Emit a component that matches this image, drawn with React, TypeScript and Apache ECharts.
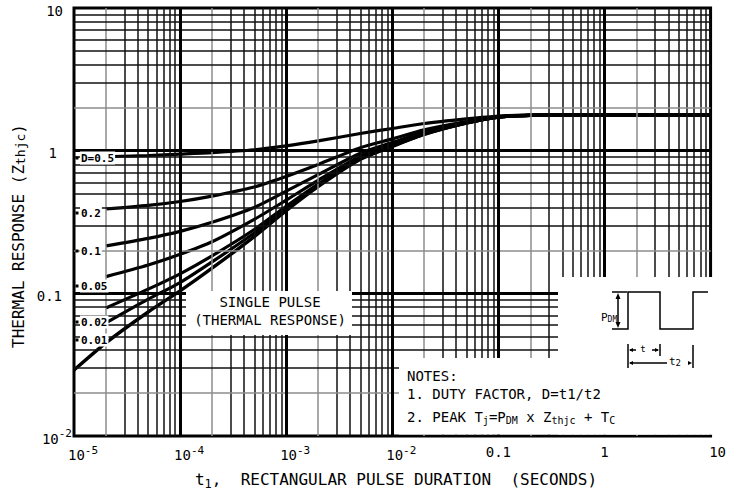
import React, { useEffect, useRef } from 'react';
import * as echarts from 'echarts';

const FONT = '"DejaVu Sans Mono", monospace';

// ---- data (seconds, Zthjc) ----
const tSingle = [1e-5, 2e-5, 5e-5, 1e-4, 2e-4, 5e-4, 1e-3, 2e-3, 5e-3, 1e-2, 2e-2, 5e-2, 1e-1, 2e-1, 1, 10];
const zSingle = [0.029, 0.045, 0.074, 0.104, 0.15, 0.25, 0.38, 0.56, 0.87, 1.07, 1.3, 1.56, 1.72, 1.77, 1.78, 1.78];

const tDuty = [2e-5, 5e-5, 1e-4, 2e-4, 5e-4, 1e-3, 2e-3, 5e-3, 1e-2, 2e-2, 5e-2, 1e-1, 2e-1, 1, 10];
const tD05 = [2.3e-5, 5e-5, 1e-4, 2e-4, 5e-4, 1e-3, 2e-3, 5e-3, 1e-2, 2e-2, 5e-2, 1e-1, 2e-1, 1, 10];
const zD05 = [0.91, 0.925, 0.945, 0.968, 1.015, 1.08, 1.17, 1.32, 1.43, 1.55, 1.67, 1.75, 1.775, 1.78, 1.78];
const zD02 = [0.39, 0.413, 0.44, 0.48, 0.556, 0.66, 0.8, 1.05, 1.21, 1.4, 1.6, 1.73, 1.77, 1.78, 1.78];
const zD01 = [0.215, 0.243, 0.272, 0.315, 0.4, 0.52, 0.68, 0.96, 1.14, 1.35, 1.58, 1.725, 1.77, 1.78, 1.78];
const zD005 = [0.131, 0.158, 0.188, 0.23, 0.33, 0.45, 0.62, 0.915, 1.105, 1.325, 1.57, 1.72, 1.77, 1.78, 1.78];
const zD002 = [0.079, 0.107, 0.137, 0.183, 0.28, 0.408, 0.584, 0.888, 1.085, 1.31, 1.564, 1.72, 1.77, 1.78, 1.78];
const zD001 = [0.062, 0.091, 0.119, 0.166, 0.265, 0.394, 0.572, 0.879, 1.077, 1.305, 1.562, 1.72, 1.77, 1.78, 1.78];

const dutyText = ['D=0.5', '0.2', '0.1', '0.05', '0.02', '0.01'];

// ---- tick labels ----
const xTickValues = [1e-5, 1e-4, 1e-3, 1e-2, 0.1, 1, 10];
const xTickBase = ['10', '10', '10', '10', '0.1', '1', '10'];
const xTickExp = ['-5', '-4', '-3', '-2', '', '', ''];
const yTickValues = [0.01, 0.1, 1, 10];
const yTickBase = ['10', '0.1', '1', '10'];
const yTickExp = ['-2', '', '', ''];

// grid decades / mantissas
const decadesX = [-5, -4, -3, -2, -1, 0];
const decadesY = [-2, -1, 0];
const mantissas = [2, 3, 4, 5, 6, 7, 8, 9];

// layout only
const xPad = [18, 18, 18, 18, 0, 0, 14];
const yPad = [0, 10, 15, 9];
const dutyLabelY = [158, 213, 251, 286, 322, 340];

function tickIndex(list: number[], v: number) {
  return list.findIndex((t) => Math.abs(Math.log10(t) - Math.log10(v)) < 1e-6);
}

const majorStyle = { color: '#000', width: 3, type: 'solid' };
const minorStyle = { color: '#111', width: 1.5, type: 'solid' };
const greyStyle = { color: '#8c8c8c', width: 1.5, type: 'solid' };

function buildGridLines() {
  const lines: any[] = [];
  decadesX.forEach((k) => {
    mantissas.forEach((m) => {
      lines.push({ xAxis: m * Math.pow(10, k), lineStyle: m === 2 ? greyStyle : minorStyle });
    });
  });
  decadesY.forEach((k) => {
    mantissas.forEach((m) => {
      lines.push({ yAxis: m * Math.pow(10, k), lineStyle: m === 2 ? greyStyle : minorStyle });
    });
  });
  decadesX.slice(1).forEach((k) => lines.push({ xAxis: Math.pow(10, k), lineStyle: majorStyle }));
  decadesY.slice(1).forEach((k) => lines.push({ yAxis: Math.pow(10, k), lineStyle: majorStyle }));
  return lines;
}

function curve(name: string, t: number[], z: number[], width: number) {
  return {
    name,
    type: 'line',
    data: t.map((x, i) => [x, z[i]]),
    symbol: 'none',
    smooth: 0.25,
    lineStyle: { color: '#000', width },
    z: 3,
    silent: true,
  };
}

const xRich: any = {
  b: { fontSize: 14, fontFamily: FONT, color: '#000' },
  sup: { fontSize: 11, fontFamily: FONT, color: '#000', padding: [0, 0, 9, 0] },
  p18: { width: 18, fontSize: 14 },
  p14: { width: 14, fontSize: 14 },
};
const yRich: any = {
  b: { fontSize: 14, fontFamily: FONT, color: '#000', padding: [5, 0, 0, 0] },
  sup: { fontSize: 11, fontFamily: FONT, color: '#000', padding: [0, 0, 6, 0] },
  p9: { width: 9, fontSize: 14 },
  p10: { width: 10, fontSize: 14 },
  p15: { width: 15, fontSize: 14 },
};

function pulseDiagram() {
  const st = { stroke: '#000', lineWidth: 1.5, fill: 'none' };
  const els: any[] = [
    {
      type: 'polyline',
      shape: { points: [[612, 329], [628, 329], [628, 292], [660, 292], [660, 329], [693, 329], [693, 292], [708, 292]] },
      style: st,
    },
    { type: 'line', shape: { x1: 612, y1: 292, x2: 627, y2: 292 }, style: st },
    { type: 'line', shape: { x1: 618, y1: 296, x2: 618, y2: 325 }, style: st },
    { type: 'polygon', shape: { points: [[618, 293], [615.5, 299], [620.5, 299]] }, style: { fill: '#000' } },
    { type: 'polygon', shape: { points: [[618, 328], [615.5, 322], [620.5, 322]] }, style: { fill: '#000' } },
    {
      type: 'text',
      style: {
        x: 601, y: 317, text: '{p|P}{s|DM}', verticalAlign: 'middle', fill: '#000',
        rich: {
          p: { fontSize: 11, fontFamily: FONT },
          s: { fontSize: 8, fontFamily: FONT, padding: [5, 0, 0, 0] },
        },
      },
    },
    // t1 dimension
    { type: 'line', shape: { x1: 628, y1: 344, x2: 628, y2: 368 }, style: st },
    { type: 'line', shape: { x1: 660, y1: 344, x2: 660, y2: 356 }, style: st },
    { type: 'line', shape: { x1: 693, y1: 345, x2: 693, y2: 368 }, style: st },
    { type: 'line', shape: { x1: 630, y1: 350, x2: 636, y2: 350 }, style: st },
    { type: 'polygon', shape: { points: [[629, 350], [633, 348], [633, 352]] }, style: { fill: '#000' } },
    { type: 'text', style: { x: 643, y: 349, text: 't', fontSize: 9, fontFamily: FONT, fill: '#000', align: 'center', verticalAlign: 'middle' } },
    { type: 'line', shape: { x1: 652, y1: 350, x2: 658, y2: 350 }, style: st },
    { type: 'polygon', shape: { points: [[659, 350], [655, 348], [655, 352]] }, style: { fill: '#000' } },
    // t2 dimension
    { type: 'line', shape: { x1: 630, y1: 363, x2: 667, y2: 363 }, style: st },
    { type: 'polygon', shape: { points: [[629, 363], [633, 361], [633, 365]] }, style: { fill: '#000' } },
    {
      type: 'text',
      style: {
        x: 669, y: 361, text: '{m|t}{s|2}', verticalAlign: 'middle', fill: '#000',
        rich: { m: { fontSize: 11, fontFamily: FONT }, s: { fontSize: 9, fontFamily: FONT, padding: [4, 0, 0, 0] } },
      },
    },
    { type: 'polygon', shape: { points: [[692, 363], [688, 361], [688, 365]] }, style: { fill: '#000' } },
  ];
  return els.map((e) => ({ ...e, z: 12, silent: true }));
}

function buildGraphics() {
  const els: any[] = [];
  // white boxes
  els.push({ type: 'rect', shape: { x: 186, y: 291, width: 166, height: 44 }, style: { fill: '#fff' }, z: 10 });
  els.push({ type: 'rect', shape: { x: 558, y: 277, width: 159.5, height: 157.5 }, style: { fill: '#fff' }, z: 10 });
  els.push({ type: 'rect', shape: { x: 399, y: 358, width: 318.5, height: 76.5 }, style: { fill: '#fff' }, z: 10 });
  // single pulse text
  els.push({
    type: 'text', z: 11,
    style: { x: 270, y: 302, text: 'SINGLE PULSE', fontSize: 14, fontFamily: FONT, fill: '#000', align: 'center', verticalAlign: 'middle' },
  });
  els.push({
    type: 'text', z: 11,
    style: { x: 270, y: 320, text: '(THERMAL RESPONSE)', fontSize: 14, fontFamily: FONT, fill: '#000', align: 'center', verticalAlign: 'middle' },
  });
  // notes
  const noteRich = {
    m: { fontSize: 14, fontFamily: FONT },
    s: { fontSize: 10, fontFamily: FONT, padding: [7, 0, 0, 0] },
  };
  els.push({ type: 'text', z: 11, style: { x: 407, y: 376, text: 'NOTES:', fontSize: 14, fontFamily: FONT, fill: '#000', verticalAlign: 'middle' } });
  els.push({ type: 'text', z: 11, style: { x: 407, y: 394, text: '1. DUTY FACTOR, D=t1/t2', fontSize: 14, fontFamily: FONT, fill: '#000', verticalAlign: 'middle' } });
  els.push({
    type: 'text', z: 11,
    style: {
      x: 407, y: 417, fill: '#000', verticalAlign: 'middle',
      text: '{m|2. PEAK T}{s|j}{m|=P}{s|DM}{m| x Z}{s|thjc}{m| + T}{s|C}',
      rich: noteRich,
    },
  });
  // duty labels
  dutyText.forEach((txt, i) => {
    els.push({
      type: 'text', z: 11,
      style: {
        x: 80, y: dutyLabelY[i], text: txt, fontSize: 11, fontFamily: FONT, fontWeight: 'bold', fill: '#000',
        verticalAlign: 'middle', backgroundColor: '#fff', padding: [1, 1, 1, 1],
      },
    });
    els.push({ type: 'rect', z: 11, shape: { x: 75.5, y: dutyLabelY[i] - 1.5, width: 3, height: 3 }, style: { fill: '#000' } });
  });
  // axis titles
  els.push({
    type: 'text', z: 11, x: 18, y: 236, rotation: Math.PI / 2,
    style: {
      x: 0, y: 0, text: '{m|THERMAL RESPONSE (Z}{s|thjc}{m|)}', align: 'center', verticalAlign: 'middle', fill: '#000',
      rich: { m: { fontSize: 16, fontFamily: FONT }, s: { fontSize: 13, fontFamily: FONT, padding: [5, 0, 0, 0] } },
    },
  });
  els.push({
    type: 'text', z: 11, x: 396, y: 479,
    style: {
      x: 0, y: 0, text: '{m|t}{s|1}{m|,  RECTANGULAR PULSE DURATION  (SECONDS)}', align: 'center', verticalAlign: 'middle', fill: '#000',
      rich: { m: { fontSize: 16, fontFamily: FONT }, s: { fontSize: 12, fontFamily: FONT, padding: [9, 0, 0, 0] } },
    },
  });
  return els.map((e) => ({ silent: true, ...e })).concat(pulseDiagram());
}

export default function App() {
  const ref = useRef<HTMLDivElement>(null);
  useEffect(() => {
    const chart = echarts.init(ref.current!, undefined, { renderer: 'svg' });
    const option: any = {
      animation: false,
      backgroundColor: '#fff',
      textStyle: { fontFamily: FONT },
      grid: { left: 74, right: 10, top: 8, bottom: 57, show: true, borderColor: '#000', borderWidth: 3, backgroundColor: 'transparent' },
      xAxis: {
        type: 'log', logBase: 10, min: 1e-5, max: 10, interval: 1,
        axisLine: { show: false }, axisTick: { show: false }, splitLine: { show: false },
        axisLabel: {
          margin: 9,
          formatter: (v: number) => {
            const i = tickIndex(xTickValues, v);
            if (i < 0) return '';
            const pad = xPad[i] ? `{p${xPad[i]}| }` : '';
            return pad + `{b|${xTickBase[i]}}` + (xTickExp[i] ? `{sup|${xTickExp[i]}}` : '');
          },
          rich: xRich,
        },
      },
      yAxis: {
        type: 'log', logBase: 10, min: 0.01, max: 10, interval: 1,
        axisLine: { show: false }, axisTick: { show: false }, splitLine: { show: false },
        axisLabel: {
          margin: 2,
          formatter: (v: number) => {
            const i = tickIndex(yTickValues, v);
            if (i < 0) return '';
            const pad = yPad[i] ? `{p${yPad[i]}| }` : '';
            return `{b|${yTickBase[i]}}` + (yTickExp[i] ? `{sup|${yTickExp[i]}}` : '') + pad;
          },
          rich: yRich,
        },
      },
      series: [
        {
          name: 'grid', type: 'line', data: [[1e-5, 0.01]], symbol: 'none', lineStyle: { width: 0 }, silent: true, z: 1,
          markLine: {
            silent: true, symbol: ['none', 'none'], label: { show: false }, animation: false, precision: 12,
            lineStyle: { type: 'solid' }, emphasis: { disabled: true },
            data: buildGridLines(),
          },
        },
        curve('Single pulse', tSingle, zSingle, 3.4),
        curve('D=0.5', tD05, zD05, 3.2),
        curve('D=0.2', tDuty, zD02, 3.2),
        curve('D=0.1', tDuty, zD01, 3.2),
        curve('D=0.05', tDuty, zD005, 3.2),
        curve('D=0.02', tDuty, zD002, 3.2),
        curve('D=0.01', tDuty, zD001, 3.2),
      ],
      graphic: { elements: buildGraphics() },
    };
    chart.setOption(option);
    return () => chart.dispose();
  }, []);
  return <div ref={ref} style={{ position: 'fixed', left: 0, top: 0, width: 729, height: 493, background: '#fff' }} />;
}
